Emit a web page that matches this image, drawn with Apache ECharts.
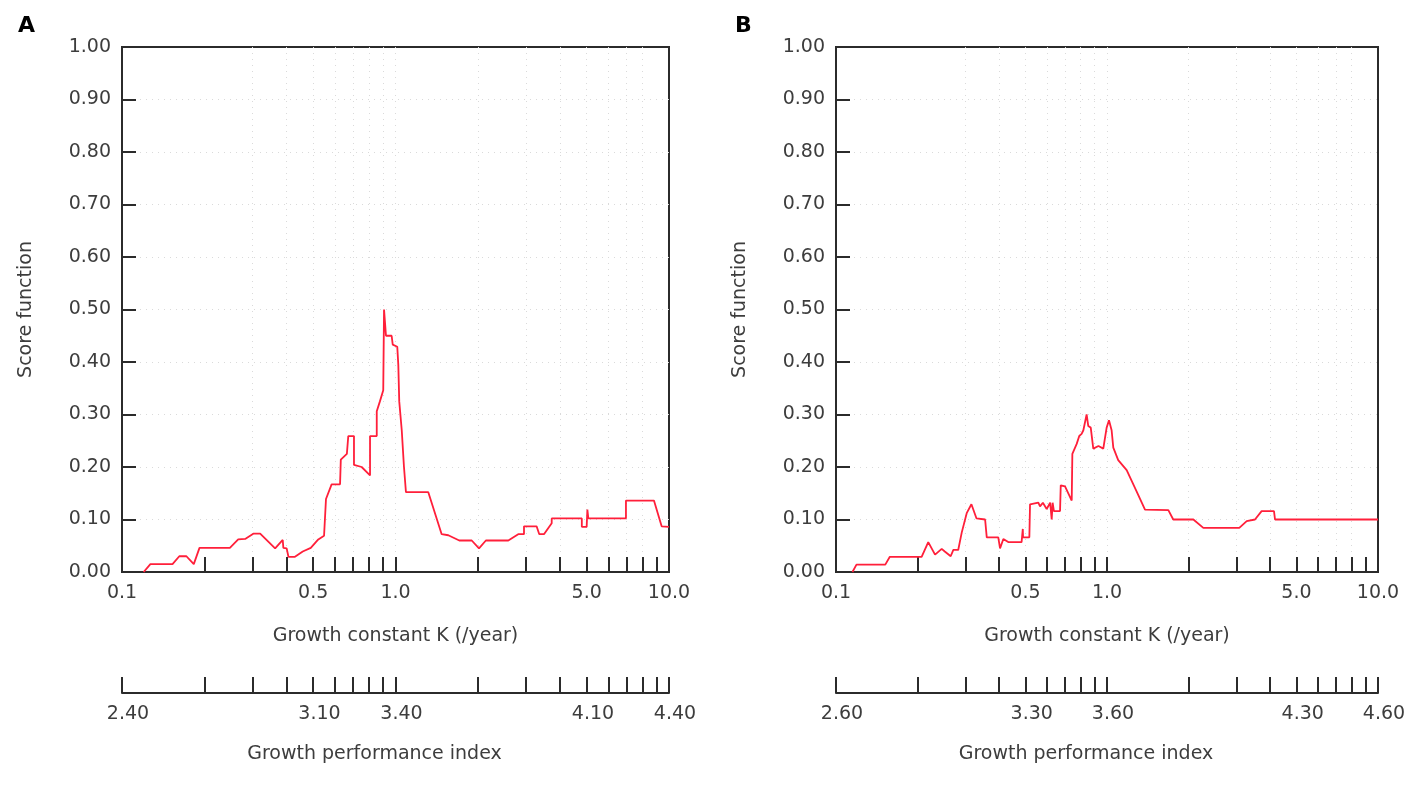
<!DOCTYPE html>
<html>
<head>
<meta charset="utf-8">
<script src="https://cdn.jsdelivr.net/npm/echarts@6/dist/echarts.min.js"></script>
<style>
html,body{margin:0;padding:0;background:#fff;}
#main{width:1416px;height:790px;}
</style>
</head>
<body>
<div id="main"></div>
<script>
// panel A : score function against growth constant K
var kA = [0.12, 0.127, 0.153, 0.162, 0.172, 0.183, 0.192, 0.248, 0.266, 0.282, 0.302, 0.32,
    0.363, 0.387, 0.389, 0.40, 0.406, 0.429, 0.458, 0.49, 0.522, 0.548, 0.557, 0.584, 0.627,
    0.631, 0.664, 0.672, 0.705, 0.705, 0.752, 0.807, 0.807, 0.854, 0.854, 0.877, 0.902, 0.908,
    0.923, 0.968, 0.977, 1.015, 1.024, 1.032, 1.054, 1.074, 1.092, 1.318, 1.475, 1.56, 1.711,
    1.90, 2.02, 2.14, 2.585, 2.81, 2.95, 2.95, 3.28, 3.355, 3.49, 3.725, 3.725, 4.80, 4.80,
    5.0, 5.03, 5.07, 6.96, 6.96, 8.81, 9.40, 10.0];
var scoreA = [0, 0.015, 0.015, 0.03, 0.03, 0.015, 0.046, 0.046, 0.062, 0.063, 0.073, 0.073,
    0.045, 0.061, 0.046, 0.045, 0.029, 0.029, 0.039, 0.046, 0.062, 0.069, 0.139, 0.167, 0.167,
    0.214, 0.225, 0.259, 0.259, 0.204, 0.2, 0.184, 0.259, 0.259, 0.306, 0.325, 0.346, 0.50,
    0.45, 0.45, 0.433, 0.429, 0.394, 0.325, 0.27, 0.2, 0.152, 0.152, 0.072, 0.07, 0.06,
    0.06, 0.045, 0.06, 0.06, 0.072, 0.072, 0.087, 0.087, 0.072, 0.072, 0.093, 0.102, 0.102, 0.086,
    0.086, 0.119, 0.102, 0.102, 0.136, 0.136, 0.087, 0.086];

// panel B
var kB = [0.115, 0.119, 0.152, 0.158, 0.207, 0.219, 0.232, 0.2455, 0.252, 0.265, 0.271, 0.2825,
    0.291, 0.3036, 0.316, 0.330, 0.355, 0.36, 0.397, 0.403, 0.4145, 0.432, 0.484, 0.489, 0.49,
    0.517, 0.52, 0.558, 0.566, 0.58, 0.599, 0.617, 0.625, 0.630, 0.637, 0.671, 0.675, 0.70,
    0.741, 0.745, 0.773, 0.79, 0.806, 0.818, 0.841, 0.853, 0.871, 0.89, 0.93, 0.969, 0.997,
    1.017, 1.040, 1.055, 1.10, 1.182, 1.287, 1.381, 1.684, 1.756, 2.083, 2.267, 3.077, 3.277,
    3.516, 3.72, 4.132, 4.169, 10.0];
var scoreB = [0, 0.014, 0.014, 0.029, 0.029, 0.057, 0.033, 0.044, 0.039, 0.030, 0.042, 0.042,
    0.075, 0.112, 0.129, 0.102, 0.10, 0.066, 0.066, 0.045, 0.063, 0.057, 0.057, 0.082, 0.066,
    0.066, 0.129, 0.132, 0.125, 0.132, 0.12, 0.132, 0.1, 0.132, 0.116, 0.116, 0.165, 0.163,
    0.136, 0.225, 0.244, 0.259, 0.263, 0.27, 0.30, 0.278, 0.275, 0.235, 0.24, 0.235, 0.275,
    0.289, 0.27, 0.237, 0.213, 0.194, 0.153, 0.119, 0.118, 0.10, 0.10, 0.084, 0.084, 0.097,
    0.10, 0.116, 0.116, 0.10, 0.10];

var kTicks = [0.2, 0.3, 0.4, 0.5, 0.6, 0.7, 0.8, 0.9, 1, 2, 3, 4, 5, 6, 7, 8, 9];
var kLabels = [0.1, 0.5, 1, 5, 10];
var phiStartA = 2.4, phiStartB = 2.6;   // index value at K = 0.1
var phiLabelsA = [2.4, 3.1, 3.4, 4.1, 4.4];
var phiLabelsB = [2.6, 3.3, 3.6, 4.3, 4.6];

var txt = '#3d3d3d';
var axisCol = '#2b2b2b';
var font = 'DejaVu Sans';
var lineRed = '#ff1f3a';

// index axis ticks sit under the K ticks (index = start + log10(K/0.1))
function phiTicks(start) {
    return [0.1].concat(kTicks, [10]).map(function (k) {
        return start + Math.log10(k / 0.1);
    });
}

function kAxis(gi) {
    return {
        type: 'log', logBase: 10, gridIndex: gi, min: 0.1, max: 10,
        name: 'Growth constant K (/year)', nameLocation: 'middle', nameGap: 55,
        nameTextStyle: {color: txt, fontSize: 19, fontFamily: font},
        axisLine: {lineStyle: {color: axisCol, width: 2}},
        axisTick: {inside: true, length: 15, customValues: kTicks, lineStyle: {color: axisCol, width: 2}},
        axisLabel: {customValues: kLabels, color: txt, fontSize: 19, fontFamily: font, margin: 12,
            formatter: function (v) { return (+v).toFixed(1); }},
        splitLine: {show: true, showMinLine: false, showMaxLine: false,
            lineStyle: {color: '#dadada', type: [1, 5], width: 1}},
        minorTick: {show: false}
    };
}

function phiAxis(gi, start, labels) {
    return {
        type: 'value', gridIndex: gi, min: start, max: start + 2,
        name: 'Growth performance index', nameLocation: 'middle', nameGap: 52,
        nameTextStyle: {color: txt, fontSize: 19, fontFamily: font, padding: [0, 42, 0, 0]},
        axisLine: {lineStyle: {color: axisCol, width: 2}},
        axisTick: {inside: true, length: 16, customValues: phiTicks(start), lineStyle: {color: axisCol, width: 2}},
        axisLabel: {customValues: labels, color: txt, fontSize: 19, fontFamily: font, margin: 12,
            padding: [0, 0, 0, 12],
            formatter: function (v) { return (+v).toFixed(2); }},
        splitLine: {show: false}
    };
}

function scoreAxis(gi) {
    return {
        type: 'value', gridIndex: gi, min: 0, max: 1, interval: 0.1,
        name: 'Score function', nameLocation: 'middle', nameGap: 86,
        nameTextStyle: {color: txt, fontSize: 19, fontFamily: font},
        axisLine: {show: true, lineStyle: {color: axisCol, width: 2}},
        axisTick: {show: true, inside: true, length: 14, lineStyle: {color: axisCol, width: 2}},
        axisLabel: {color: txt, fontSize: 19, fontFamily: font, margin: 11,
            formatter: function (v) { return v.toFixed(2); }},
        splitLine: {show: true, showMinLine: false, showMaxLine: false,
            lineStyle: {color: '#dadada', type: [1, 5], width: 1}}
    };
}

var myChart = echarts.init(document.getElementById('main'), null, {renderer: 'canvas'});
var option = {
    animation: false,
    backgroundColor: '#fff',
    grid: [
        {left: 122, top: 47, width: 547, height: 525, show: true, borderColor: axisCol, borderWidth: 2, backgroundColor: 'transparent'},
        {left: 836, top: 47, width: 542, height: 525, show: true, borderColor: axisCol, borderWidth: 2, backgroundColor: 'transparent'},
        {left: 122, top: 641, width: 547, height: 52},
        {left: 836, top: 641, width: 542, height: 52}
    ],
    xAxis: [kAxis(0), kAxis(1), phiAxis(2, phiStartA, phiLabelsA), phiAxis(3, phiStartB, phiLabelsB)],
    yAxis: [scoreAxis(0), scoreAxis(1),
        {type: 'value', gridIndex: 2, show: false},
        {type: 'value', gridIndex: 3, show: false}],
    graphic: [
        {type: 'text', left: 18, top: 15, style: {text: 'A', fontSize: 22, fontWeight: 'bold', fontFamily: font, fill: '#000'}},
        {type: 'text', left: 735, top: 15, style: {text: 'B', fontSize: 22, fontWeight: 'bold', fontFamily: font, fill: '#000'}}
    ],
    series: [
        {
            name: 'A', type: 'line', xAxisIndex: 0, yAxisIndex: 0, showSymbol: false,
            lineStyle: {color: lineRed, width: 1.8},
            data: kA.map(function (k, i) { return [k, scoreA[i]]; })
        },
        {
            name: 'B', type: 'line', xAxisIndex: 1, yAxisIndex: 1, showSymbol: false,
            lineStyle: {color: lineRed, width: 1.8},
            data: kB.map(function (k, i) { return [k, scoreB[i]]; })
        }
    ]
};
myChart.setOption(option);
</script>
</body>
</html>
